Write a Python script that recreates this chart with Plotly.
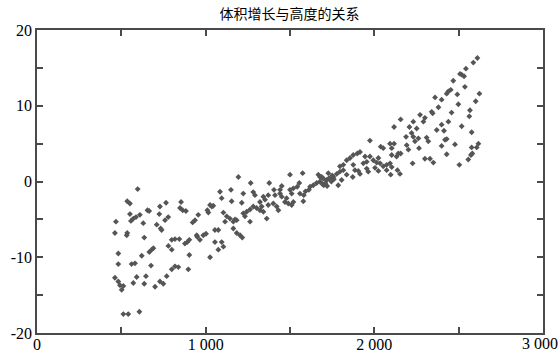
import plotly.graph_objects as go

title_text = "体积增长与高度的关系"

# height (x) and volume growth (y) pairs
x_vals = [
    597, 535, 551, 468, 551, 571, 587, 557, 610, 655, 665, 729, 765, 725, 778, 759, 630, 462, 532, 535,
    710, 733, 739, 636, 482, 690, 680, 666, 621, 799, 818, 844, 779, 799, 482, 561, 581, 676, 903, 818,
    838, 799, 897, 462, 482, 492, 512, 502, 591, 646, 571, 636, 729, 749, 769, 700, 512, 541, 607, 956,
    937, 923, 854, 848, 864, 883, 1010, 1016, 947, 966, 950, 986, 1002, 903, 891, 877,
    1194, 1267, 1500, 1575, 1668, 1678, 1697, 1717, 1658, 1638, 1619, 1730, 1710, 1377, 1451, 1441, 1555, 1543, 1520, 1500,
    1510, 1559, 1592, 1612, 1582, 1085, 1150, 1223, 1282, 1292, 1095, 1154, 1214, 1342, 1371, 1405, 1411, 1441, 1451, 1480,
    1470, 1490, 1322, 1352, 1371, 1401, 1421, 1520, 1579, 1510, 1282, 1302, 1322, 1342, 1332, 1263, 1243, 1223, 1233, 1431,
    1026, 1036, 1045, 1105, 1125, 1144, 1174, 1164, 1184, 1115, 1362, 1263, 1055, 1075, 1164, 1184, 1204, 1217, 1055, 1095,
    1105, 1075, 1026,
    2156, 2271, 2231, 2208, 2251, 2117, 2221, 2188, 2231, 2261, 2265, 1974, 2038, 2053, 2093, 2117, 2103, 2192, 2202, 2142,
    2156, 2132, 2103, 1915, 1899, 1875, 1856, 1836, 1816, 1796, 1945, 1974, 1955, 1994, 2014, 2034, 2024, 2053, 2073, 2093,
    1875, 1885, 1905, 1915, 1935, 1955, 1964, 2004, 2024, 2073, 2103, 2137, 2152, 2097, 2227, 1872, 1836, 1796, 1777, 1757,
    1737, 1678, 1688, 1727, 1816, 1806, 1786, 1700, 1690, 1745, 1760, 1720, 1750,
    2611, 2587, 2543, 2518, 2532, 2508, 2468, 2537, 2453, 2429, 2439, 2492, 2623, 2360, 2399, 2601, 2380, 2498, 2340, 2346,
    2458, 2567, 2563, 2300, 2291, 2439, 2399, 2518, 2370, 2413, 2577, 2310, 2320, 2241, 2419, 2429, 2478, 2399, 2617, 2577,
    2607, 2581, 2573, 2429, 2300, 2330, 2350, 2557, 2504,
]
y_vals = [
    -1.0, -2.6, -2.9, -5.3, -4.3, -4.9, -4.7, -5.2, -4.4, -3.8, -3.9, -3.3, -2.8, -4.3, -4.7, -5.1, -5.5, -6.8, -7.1, -6.8,
    -5.7, -6.2, -6.4, -7.4, -9.5, -8.8, -9.0, -9.3, -9.8, -7.7, -7.6, -7.6, -8.5, -9.0, -10.9, -10.9, -10.8, -11.1, -9.7, -11.2,
    -11.3, -11.6, -11.6, -12.7, -13.2, -13.7, -13.8, -14.3, -12.6, -12.5, -13.4, -13.5, -13.2, -13.5, -12.5, -13.9, -17.5, -17.5, -17.2, -4.4,
    -5.1, -5.4, -2.7, -3.5, -3.8, -3.9, -3.8, -4.1, -7.1, -7.7, -7.3, -7.1, -6.9, -7.7, -8.0, -8.2,
    0.6, -0.2, 0.9, 1.1, 0.9, 0.6, 0.4, 0.2, -0.2, -0.5, -0.7, 0.4, -0.2, -0.2, -0.6, -1.1, -0.2, -0.7, -0.9, -1.1,
    -1.6, -1.6, -1.3, -1.1, -1.8, -1.35, -1.1, -1.6, -1.4, -1.8, -2.2, -2.6, -2.8, -2.0, -1.8, -1.1, -1.8, -1.6, -2.0, -2.2,
    -2.7, -2.9, -2.7, -2.4, -3.1, -2.9, -3.3, -2.7, -2.6, -3.1, -3.3, -3.5, -3.8, -4.0, -3.3, -3.7, -4.0, -4.2, -4.6, -3.8,
    -3.1, -3.3, -3.2, -4.1, -4.6, -4.9, -5.0, -5.3, -5.1, -5.3, -4.9, -5.3, -6.4, -6.4, -6.2, -6.8, -7.1, -7.4, -8.0, -8.0,
    -8.6, -9.0, -10.0,
    8.2, 8.8, 7.9, 7.2, 7.0, 7.2, 6.4, 5.9, 5.9, 5.7, 4.4, 5.4, 4.6, 4.4, 5.0, 5.0, 4.4, 4.8, 4.2, 3.7,
    3.7, 3.3, 3.5, 3.9, 3.7, 3.5, 3.1, 2.8, 2.2, 2.0, 3.3, 3.3, 2.6, 2.8, 2.5, 2.4, 3.1, 2.0, 2.2, 2.4,
    2.2, 1.5, 1.4, 1.0, 2.4, 1.7, 1.3, 1.8, 1.4, 1.5, 1.9, 1.5, 1.0, 0.9, 2.4, 0.6, 0.9, 1.3, 1.0, 0.6,
    0.4, 0.0, 0.6, 1.1, 1.5, 0.2, -0.5, -0.5, -0.3, 0.0, 0.3, -0.6, 0.8,
    16.3, 15.7, 14.9, 14.1, 13.9, 14.2, 13.3, 12.5, 12.1, 11.6, 11.9, 11.5, 11.6, 11.1, 10.8, 10.6, 9.8, 10.2, 9.2, 9.0,
    9.1, 9.4, 8.6, 8.4, 7.9, 7.9, 7.5, 7.3, 6.8, 6.7, 6.5, 5.8, 5.3, 5.3, 5.5, 5.6, 4.9, 4.7, 5.0, 4.5,
    4.5, 3.7, 3.5, 3.6, 3.0, 3.0, 2.5, 2.9, 2.2,
]

x_tickvals = [0, 500, 1000, 1500, 2000, 2500, 3000]
x_ticktext = ["0", "", "1 000", "", "2 000", "", ""]
x_last_label = "3 000"
y_tickvals = [-20, -15, -10, -5, 0, 5, 10, 15, 20]
y_ticktext = ["-20", "", "-10", "", "0", "", "10", "", "20"]

tick_font = dict(family="Liberation Serif", size=16, color="black")

fig = go.Figure()
fig.add_trace(go.Scatter(
    x=x_vals, y=y_vals, mode="markers",
    marker=dict(symbol="diamond", size=4.5, color="#555555", line=dict(width=0)),
    hoverinfo="skip",
))

axis_common = dict(
    showgrid=False, zeroline=False, showline=True, linecolor="#4a4a4a", linewidth=1.6,
    ticks="inside", ticklen=6, tickwidth=1.5, tickcolor="#4a4a4a", mirror="ticks",
    tickfont=tick_font, automargin=False,
)

fig.update_layout(
    width=560, height=355,
    margin=dict(l=37, r=17, t=30, b=22),
    paper_bgcolor="white", plot_bgcolor="white",
    showlegend=False,
    title=dict(text=title_text, x=0.517, xanchor="center", y=0.96, yanchor="middle",
               font=dict(family="Noto Sans CJK SC", size=14, color="black")),
    xaxis=dict(range=[0, 3000], tickvals=x_tickvals, ticktext=x_ticktext,
               ticklabelstandoff=-4, **axis_common),
    yaxis=dict(range=[-20, 20], tickvals=y_tickvals, ticktext=y_ticktext, **axis_common),
)

fig.add_annotation(
    text=x_last_label, xref="paper", yref="paper", x=1, y=0,
    xanchor="right", yanchor="top", xshift=17, yshift=0,
    showarrow=False, font=tick_font,
)

fig.write_html(
    "out.html",
    config={"displayModeBar": False},
    post_script="document.body.style.margin='0';document.body.style.padding='0';",
)
